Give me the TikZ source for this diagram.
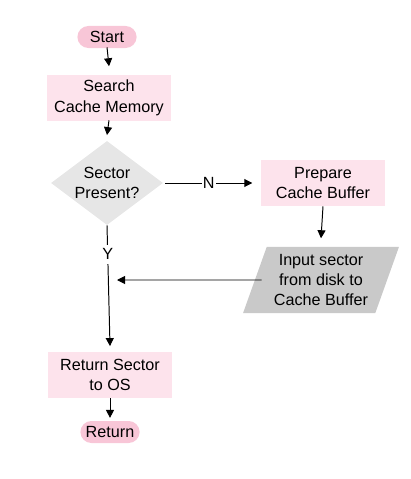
\documentclass[tikz,border=0pt]{standalone}
\usepackage{fontspec}
\setmainfont{Liberation Sans}
\usepackage{tikz}
\usetikzlibrary{arrows.meta, shapes.geometric, shapes.misc}

\definecolor{pillpink}{HTML}{F8C6D7}
\definecolor{boxpink}{HTML}{FDE3EC}
\definecolor{decgray}{HTML}{E6E6E6}
\definecolor{iogray}{HTML}{C9C9C9}

\tikzset{
    every node/.style={font=\fontsize{11.5}{14.5}\selectfont, align=center},
    terminal/.style={rounded rectangle, fill=pillpink, minimum width=1.55cm, minimum height=0.55cm, inner sep=1pt},
    process/.style={rectangle, fill=boxpink, minimum width=3.1cm, minimum height=1.15cm, inner sep=1pt},
    decision/.style={diamond, fill=decgray, minimum width=2.8cm, minimum height=2.1cm, aspect=1.33, inner sep=0pt},
    inout/.style={trapezium, trapezium left angle=69, trapezium right angle=111, trapezium stretches=true, fill=iogray, minimum width=3.9cm, minimum height=1.65cm, inner sep=1pt},
    flow/.style={line width=0.7pt, -{Triangle[length=2mm, width=2mm]}}
}

\begin{document}
\begin{tikzpicture}[x=0.025cm, y=-0.025cm]
        \useasboundingbox (0,0) rectangle (411,479);

        % Terminals
        \node[terminal] (start) at (107,37) {Start};
        \node[terminal] (stop) at (110,432) {Return};

        % Process boxes
        \node[process] (search) at (109,98) {Search\\Cache Memory};
        \node[process] (prepare) at (323,183) {Prepare\\Cache Buffer};
        \node[process] (give) at (110,375) {Return Sector\\to OS};

        % Decision
        \node[decision] (present) at (107,183) {Sector\\Present?};

        % Input from disk
        \node[inout] (input) at (321,280) {Input sector\\from disk to\\Cache Buffer};

        % End of the arrow back from the disk read
        \coordinate (join) at (117,280);

        % Connectors
        \draw[flow] (start.south) ++(0,-1) -- ([yshift=6pt]search.north);
        \draw[flow] (search.south) ++(0,-1) -- ([yshift=4pt]present.north);
        \draw[flow] (present.east) ++(2,0) -- node[fill=white, inner sep=1pt] {N} ([xshift=-6pt]prepare.west);
        \draw[flow] (prepare.south) -- ([yshift=6pt]input.north);
        \draw[flow] (present.south) -- node[pos=0.24, fill=white, inner sep=3pt] {Y} ([yshift=4pt]give.north);
        \draw[flow] ([xshift=5pt]input.west) -- (join);
        \draw[flow] (give.south) -- ([yshift=2pt]stop.north);
    \end{tikzpicture}
\end{document}
